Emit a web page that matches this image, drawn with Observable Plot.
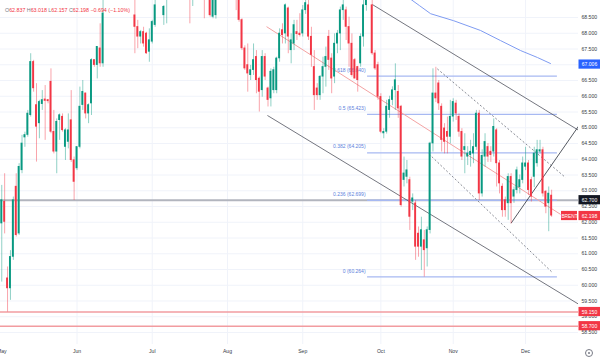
<!DOCTYPE html>
<html><head><meta charset="utf-8">
<script src="https://cdn.jsdelivr.net/npm/d3@7"></script>
<script src="https://cdn.jsdelivr.net/npm/@observablehq/plot@0.6"></script>
<style>
body{margin:0;background:#fff;font-family:"Liberation Sans",Arial,sans-serif}
#wrap{position:relative;width:600px;height:360px;overflow:hidden}
#hdr{position:absolute;left:5px;top:7px;font-size:5.3px;color:#f23645;white-space:nowrap;font-family:"Liberation Sans",Arial,sans-serif}
#hdr .k{color:#787b86}
#ico{position:absolute;left:585px;top:349px;width:6px;height:6px;border:1px solid #787b86;border-radius:50%}
#ico:after{content:"";position:absolute;left:2px;top:2px;width:2px;height:2px;background:#787b86;border-radius:50%}
</style></head><body><div id="wrap"><div id="chart"></div><div id="hdr"></div><div id="ico"></div></div>
<script>
// ---- data: daily candles [open, high, low, close]; null = candle entirely above the visible range
const months = ["May","Jun","Jul","Aug","Sep","Oct","Nov","Dec"];
const mayRows = [
[61.95,63.17,60.10,62.69],[62.64,63.54,61.63,62.00],[60.21,60.58,59.15,59.89],[59.89,61.10,59.52,60.89],
[60.89,62.80,60.79,62.69],[63.12,63.54,61.53,61.58],[61.63,63.86,61.58,63.75],[63.64,64.76,63.54,64.49],
[64.68,64.86,64.38,64.76],[64.76,65.55,64.70,65.44],[65.39,67.35,65.34,67.08],[67.08,67.14,66.13,66.24],
[65.71,66.40,63.91,65.02],[65.13,65.87,64.65,65.81],[65.74,66.18,65.55,65.87],[65.89,66.34,64.60,65.84],
[65.87,65.90,65.76,65.83],[66.45,66.87,64.81,64.86],[64.86,65.55,64.17,64.23],[64.23,65.28,63.54,65.18],
[65.23,65.44,64.60,65.39],[65.34,65.44,64.86,64.91],[64.38,64.97,63.96,64.91],[64.54,65.44,64.33,64.91],
[65.23,66.18,63.90,63.96],[63.96,64.07,62.69,63.27]];
const junRows = [
[63.70,64.38,63.64,64.38],[64.38,66.29,64.33,65.66],[65.71,66.50,65.55,66.13],[66.08,66.10,65.28,65.44],
[65.44,65.76,65.13,65.71],[65.76,67.19,65.39,67.14],[67.14,67.16,66.92,66.98],[66.98,67.56,66.55,67.56],
[67.51,68.30,66.92,67.03],[67.03,69.20,66.92,68.62],
null,null,null,null,null,null,null,null,null,null,
[68.56,69.30,67.35,68.19],[68.19,68.41,67.51,67.88],[67.88,68.09,67.66,68.03],[68.03,68.19,67.56,67.66],
[67.98,68.03,67.33,67.35],[67.40,68.14,67.08,67.77]];
const julRows = [
[67.72,68.41,67.66,68.35],[68.25,69.10,68.19,68.88],null,null,
[68.56,68.88,68.25,68.83],[69.20,69.80,68.30,69.50],null,null,null,null,null,null,null,
[69.60,70.00,68.30,69.15],[69.30,69.90,68.85,69.60],null,null,null,
[69.50,69.80,68.46,69.10],null,[69.20,69.40,68.51,68.56],[68.51,69.30,68.46,69.10],[68.56,69.40,68.45,69.20],
null,null,null];
const augRows = [
null,null,null,
[69.80,70.00,68.72,69.30],[69.20,69.50,68.35,68.41],[68.41,68.46,67.45,67.51],[67.51,67.60,66.82,66.87],
[66.98,67.66,66.13,66.71],[66.66,66.98,66.50,66.82],[66.82,67.66,66.66,67.14],[67.24,67.45,66.08,66.50],
[66.55,66.61,65.50,66.13],[66.18,67.45,65.97,67.24],[67.24,67.35,66.50,66.61],[66.24,66.29,65.66,65.87],
[65.92,66.87,65.66,66.77],[66.18,66.92,66.08,66.82],[66.18,67.24,66.08,67.19],[67.19,68.14,67.08,67.98],
[68.09,68.30,67.66,67.93],[67.98,68.93,67.66,68.88],[68.78,68.83,67.35,67.88],[67.45,67.98,67.03,67.77],
[67.66,68.41,67.45,68.25],[68.03,68.41,67.77,67.96],[67.98,68.62,67.88,67.93]];
const sepRows = [
[67.98,68.88,67.88,68.72],[68.72,69.30,68.60,68.95],[68.88,69.10,67.77,67.88],[67.88,68.19,66.92,67.30],
[66.92,67.45,65.55,66.02],[66.24,66.40,65.87,66.02],[66.02,66.66,65.87,66.61],[66.61,67.24,66.08,66.92],
[66.92,67.56,66.29,67.24],[67.88,68.09,66.82,67.14],[67.19,67.35,66.08,66.55],[66.61,67.98,66.40,67.66],
[67.66,68.09,67.35,67.98],[67.98,68.83,67.45,68.72],[68.72,69.10,68.41,68.88],[68.72,68.83,67.77,68.19],
[68.19,68.51,66.92,67.66],[67.66,67.98,66.61,66.66],[67.14,67.20,66.55,66.55],[66.92,66.95,66.13,66.50],
[67.03,67.98,66.92,67.88],[67.88,69.04,67.56,68.88],[68.88,69.50,68.70,69.30],null,
[68.88,69.20,67.30,67.35],[67.35,67.45,66.82,66.87],[66.98,67.08,65.87,65.97]];
const octRows = [
[65.97,66.08,64.81,64.86],[64.81,64.97,64.65,64.86],[64.86,65.87,64.80,65.66],[65.55,66.00,65.30,65.87],
[65.87,66.30,65.70,66.18],[66.18,67.03,65.55,66.50],[66.13,66.34,65.30,65.60],[65.66,65.71,62.48,62.53],
[63.33,64.07,63.12,63.54],[63.43,63.96,63.22,63.64],[63.33,63.43,61.74,62.16],[62.64,62.90,62.37,62.75],
[62.59,62.69,60.79,61.21],[61.63,61.85,60.89,61.21],[61.21,62.16,60.47,61.74],[61.42,61.74,60.26,61.10],
[61.16,61.85,60.58,61.74],[61.74,64.54,61.63,64.49],[64.49,66.87,64.23,66.08],[66.08,66.92,65.80,65.92],
[66.40,66.50,65.55,65.76],[65.66,65.76,64.23,64.60],[64.97,65.13,64.17,64.54],[64.86,65.34,64.17,64.70],
[64.70,65.87,64.49,65.34]];
const novRows = [
[65.34,65.92,65.18,65.81],[65.76,65.87,65.23,65.44],[65.34,65.44,64.70,64.86],[64.86,64.97,63.96,64.07],
[64.28,64.81,63.54,64.38],[64.07,64.40,63.80,64.17],[64.12,64.60,63.75,64.23],[64.17,64.81,63.86,64.38],
[64.38,65.55,64.28,65.44],[65.44,65.55,62.69,62.90],[62.90,64.30,62.80,64.10],[64.07,64.81,63.75,64.54],
[64.38,64.50,63.90,64.07],[64.23,64.40,63.90,64.12],[64.23,65.28,64.07,65.02],[64.91,64.97,63.12,63.86],
[63.86,63.96,62.90,63.22],[63.12,63.22,62.16,62.37],[62.69,62.80,62.16,62.37],[62.59,63.54,62.06,63.43],
[63.43,63.54,61.95,62.59],[62.80,63.12,62.60,63.01],[63.01,63.75,62.90,63.64],[63.10,63.50,62.90,63.33],
[63.33,64.07,63.22,63.86]];
const decRows = [
[63.75,64.38,63.64,63.86],[63.86,63.96,62.85,63.01],[63.33,63.43,62.64,62.80],[63.43,64.38,63.10,64.17],
[63.86,64.60,63.75,64.28],[64.23,64.60,64.17,64.28],[64.28,64.38,62.80,62.90],[62.96,63.01,62.27,62.48],
[62.59,63.12,61.70,62.90],[62.837,63.018,62.157,62.198]];

const yTicks = [58.5,59,59.5,60,60.5,61,61.5,62,62.5,63,63.5,64,64.5,65,65.5,66,66.5,67,67.5,68,68.5];
const fibLevels = [0, 0.236, 0.382, 0.5, 0.618];
const fibValues = [60.264, 62.699, 64.205, 65.423, 66.640];
const fibSpan = [126.4, 192.0];           // bar index where the Fibonacci lines start / end
const grayLevel = [62.7];
const redLevels = [59.15, 58.7];
// trend lines: [bar1, price1, bar2, price2]
const channelLines = [[128.1,68.91,199.3,64.92],[91.8,65.39,199.3,59.40]];
const midLine = [[91.5,68.21,193.1,62.25]];
const dashedLines = [[150.5,66.87,194.8,63.42],[147.6,64.17,190.2,60.41]];
const riseLine = [[176.0,61.97,199.3,65.05]];
const maBars = [139.5,144.3,148.2,156.1,165.4,172.3,179.3,185.1,189.6];
const maValues = [69.20,68.88,68.62,68.40,68.09,67.77,67.45,67.23,67.04];
// price tags on the axis
const tagPrices = [67.006, 62.7, 62.198, 59.15, 58.7];
const tagTexts = ["67.006","62.700","62.198","59.150","58.700"];
const tagColors = ["#2962ff","#131722","#f23645","#f23645","#f23645"];

// ---- build
const segs = [mayRows, junRows, julRows, augRows, sepRows, octRows, novRows, decRows];
let acc = 0;
const monthStart = segs.map(s => { const v = acc; acc += s.length; return v; });
const rows = [].concat(...segs);
const candles = rows.map((r, j) => r && {j, o: r[0], h: r[1], l: r[2], c: r[3]}).filter(Boolean);
const GREEN = "#089981", RED = "#f23645";
const col = d => d.c >= d.o ? GREEN : RED;
const toLink = a => a.map(r => ({x1: r[0], y1: r[1], x2: r[2], y2: r[3]}));
const fib = fibLevels.map((l, k) => ({l, v: fibValues[k]}));
const ma = maBars.map((b, k) => ({b, v: maValues[k]}));
const tags = tagPrices.map((p, k) => ({p, t: tagTexts[k], c: tagColors[k]}));
const pxPer = 2.894;                 // px per bar
const xAt = px => (px - 1.26) / pxPer;
const half = 4.6 / 31.5;             // half tag height in price units

const chart = Plot.plot({
  width: 600, height: 360,
  marginLeft: 0, marginRight: 22, marginTop: 0, marginBottom: 16,
  style: {fontFamily: "Liberation Sans, Arial, sans-serif", background: "#fff"},
  x: {type: "linear", domain: [xAt(0), xAt(578)]},
  y: {domain: [58.119, 69.04]},
  marks: [
    Plot.ruleY(yTicks, {stroke: "#f0f3fa", strokeWidth: 1}),
    Plot.ruleX(monthStart.slice(1), {stroke: "#f0f3fa", strokeWidth: 1}),
    Plot.ruleY(redLevels, {stroke: "#f29ca0", strokeWidth: 1.6}),
    Plot.ruleY(grayLevel, {stroke: "#b2b5be", strokeWidth: 2}),
    Plot.ruleY(fib, {y: "v", x1: fibSpan[0], x2: fibSpan[1], stroke: "#a7b9f2", strokeWidth: 1.3}),
    Plot.text(fib, {y: "v", x: fibSpan[0], text: d => `${d.l} (${d.v.toFixed(3)})`, textAnchor: "end", dx: -2, dy: -6, fill: "#5d7fdc", fontSize: 5}),
    Plot.line(ma, {x: "b", y: "v", stroke: "#7f9cf2", strokeWidth: 1, clip: true}),
    Plot.link(toLink(midLine), {x1: "x1", y1: "y1", x2: "x2", y2: "y2", stroke: "#f4a3a3", strokeWidth: 1, clip: true}),
    Plot.link(toLink(channelLines), {x1: "x1", y1: "y1", x2: "x2", y2: "y2", stroke: "#50535e", strokeWidth: 0.8, clip: true}),
    Plot.link(toLink(dashedLines), {x1: "x1", y1: "y1", x2: "x2", y2: "y2", stroke: "#6a6d78", strokeWidth: 0.8, strokeDasharray: "2,2", clip: true}),
    Plot.link(toLink(riseLine), {x1: "x1", y1: "y1", x2: "x2", y2: "y2", stroke: "#2a2e39", strokeWidth: 0.8, clip: true}),
    Plot.ruleX(candles, {x: "j", y1: "l", y2: "h", stroke: col, strokeOpacity: 0.45, strokeWidth: 1, clip: true}),
    Plot.rect(candles, {x1: d => d.j - 0.33, x2: d => d.j + 0.33, y1: d => Math.min(d.o, d.c), y2: d => Math.max(d.o, d.c) + 0.02, fill: col, clip: true}),
    Plot.axisY({anchor: "right", ticks: yTicks, tickFormat: d3.format(".3f"), tickSize: 0, tickPadding: 3, fontSize: 5.1, fill: "#363a45"}),
    Plot.axisX({anchor: "bottom", ticks: monthStart, tickFormat: d => months[monthStart.indexOf(d)], tickSize: 0, tickPadding: 5, fontSize: 5.1, fill: "#363a45"}),
    Plot.rect(tags, {y1: d => d.p - half, y2: d => d.p + half, x1: xAt(578.5), x2: xAt(600), fill: "c"}),
    Plot.text(tags, {y: "p", x: xAt(589), text: "t", fill: "white", fontSize: 5.1}),
    Plot.rect([tagPrices[2]], {y1: d => d - half, y2: d => d + half, x1: xAt(561), x2: xAt(577), fill: RED}),
    Plot.text([tagPrices[2]], {y: d => d, x: xAt(569), text: () => "BRENT", fill: "white", fontSize: 4.8})
  ]
});
document.getElementById("chart").appendChild(chart);
const last = decRows[decRows.length - 1];
document.getElementById("hdr").innerHTML =
  `<span class="k">O</span>${last[0].toFixed(3)} <span class="k">H</span>${last[1].toFixed(3)} <span class="k">L</span>${last[2].toFixed(3)} <span class="k">C</span>${last[3].toFixed(3)} −0.694 (−1.10%)`;
</script></body></html>
